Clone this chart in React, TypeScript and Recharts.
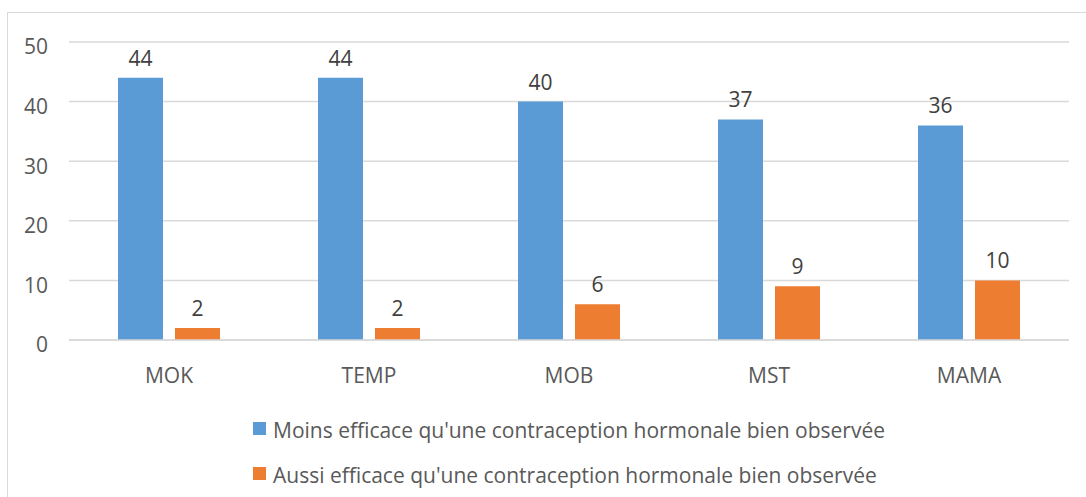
import { BarChart, Bar, XAxis, YAxis, CartesianGrid, LabelList } from 'recharts';

const categories = ['MOK', 'TEMP', 'MOB', 'MST', 'MAMA'];
const moinsEfficace = [44, 44, 40, 37, 36];
const aussiEfficace = [2, 2, 6, 9, 10];
const yTicks = [0, 10, 20, 30, 40, 50];

const seriesNames = {
  moins: "Moins efficace qu'une contraception hormonale bien observée",
  aussi: "Aussi efficace qu'une contraception hormonale bien observée",
};

const BLUE = '#5B9BD5';
const ORANGE = '#ED7D31';
const FONT = '"Open Sans", "Noto Sans", sans-serif';
const FS = 21;

const data = categories.map((c, i) => ({
  name: c,
  moins: moinsEfficace[i],
  aussi: aussiEfficace[i],
}));

const LegendBox = () => (
  <div
    style={{
      position: 'absolute',
      left: 253,
      top: 415,
      fontFamily: FONT,
      fontSize: FS,
      color: '#595959',
      lineHeight: '30px',
    }}
  >
    {[
      { key: 'moins', color: BLUE },
      { key: 'aussi', color: ORANGE },
    ].map((s, i) => (
      <div key={s.key} style={{ display: 'flex', alignItems: 'center', marginTop: i ? 15 : 0, whiteSpace: 'nowrap' }}>
        <span style={{ display: 'inline-block', width: 13, height: 13, background: s.color, marginRight: 7, marginTop: -4 }} />
        <span>{seriesNames[s.key as 'moins' | 'aussi']}</span>
      </div>
    ))}
  </div>
);

const App = () => {
  return (
    <div style={{ position: 'absolute', left: 0, top: 0, width: 1086, height: 497, background: '#fff', overflow: 'hidden' }}>
      <div
        style={{
          position: 'absolute',
          left: 7,
          top: 12,
          width: 1100,
          height: 500,
          border: '1px solid #D9D9D9',
          boxSizing: 'border-box',
        }}
      />
      <BarChart
        width={1086}
        height={497}
        data={data}
        margin={{ top: 42, right: 17, left: 0, bottom: 97 }}
        barGap={12}
        barCategoryGap={49}
        style={{ position: 'absolute', left: 0, top: 0 }}
      >
        <CartesianGrid vertical={false} stroke="#D9D9D9" strokeWidth={1.5} />
        <XAxis
          dataKey="name"
          axisLine={{ stroke: '#D9D9D9', strokeWidth: 1.5 }}
          tickLine={false}
          tickSize={0}
          tickMargin={28}
          height={60}
          tick={{ fill: '#595959', fontSize: FS, fontFamily: FONT }}
        />
        <YAxis
          domain={[0, 50]}
          ticks={yTicks}
          axisLine={false}
          tickLine={false}
          tickSize={0}
          tickMargin={21}
          width={69}
          tick={{ fill: '#595959', fontSize: FS, fontFamily: FONT, dy: 5 }}
        />
        <Bar dataKey="moins" fill={BLUE} isAnimationActive={false}>
          <LabelList dataKey="moins" position="top" offset={12} fill="#404040" fontSize={FS} fontFamily={FONT} />
        </Bar>
        <Bar dataKey="aussi" fill={ORANGE} isAnimationActive={false}>
          <LabelList dataKey="aussi" position="top" offset={12} fill="#404040" fontSize={FS} fontFamily={FONT} />
        </Bar>
      </BarChart>
      <LegendBox />
    </div>
  );
};

export default App;
